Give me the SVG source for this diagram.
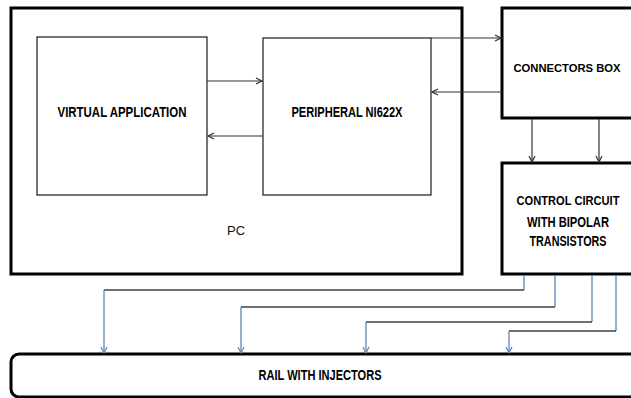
<svg xmlns="http://www.w3.org/2000/svg" width="631" height="398" viewBox="0 0 631 398">
<defs>
<style>
.thick{fill:#fff;stroke:#000;stroke-width:3}
.open{fill:#fff;stroke:#000;stroke-width:3;stroke-linejoin:miter}
.thin{fill:#fff;stroke:#1a1a1a;stroke-width:1.2}
.lbl{font-family:"Liberation Sans",Arial,sans-serif;font-weight:bold;font-size:14px;fill:#000}
.rs{font-size:12.5px}
.rx{font-size:11.5px}
.pc{font-family:"Liberation Sans",Arial,sans-serif;font-size:13px;fill:#111}
.c{fill:none;stroke:#333;stroke-width:1.2}
.h{fill:none;stroke:#404040;stroke-width:1.3}
.v{fill:none;stroke:#5b87ba;stroke-width:1.3}
</style>
<marker id="ak" markerWidth="8" markerHeight="8" refX="7" refY="4" orient="auto" markerUnits="userSpaceOnUse">
<path d="M1,1 L7,4 L1,7" fill="none" stroke="#333" stroke-width="1.2"/>
</marker>
<marker id="ab" markerWidth="8" markerHeight="8" refX="7" refY="4" orient="auto" markerUnits="userSpaceOnUse">
<path d="M1,1 L7,4 L1,7" fill="none" stroke="#5b87ba" stroke-width="1.2"/>
</marker>
</defs>
<rect width="631" height="398" fill="#fff"/>
<g id="pc">
<rect class="thick" x="11" y="8" width="451" height="266"/>
<text class="pc" x="236" y="235" text-anchor="middle">PC</text>
</g>
<g id="virtual-application">
<rect class="thin" x="37" y="37" width="170" height="158"/>
<text class="lbl" x="122" y="117" text-anchor="middle" textLength="129" lengthAdjust="spacingAndGlyphs">VIRTUAL APPLICATION</text>
</g>
<g id="peripheral">
<rect class="thin" x="263" y="38" width="168" height="157"/>
<text class="lbl" x="347" y="117" text-anchor="middle" textLength="111" lengthAdjust="spacingAndGlyphs">PERIPHERAL NI622X</text>
</g>
<g id="connectors-box">
<path class="open" d="M631,8 H502 V118 H631"/>
<text class="lbl rx" x="567" y="72" text-anchor="middle" textLength="107" lengthAdjust="spacingAndGlyphs">CONNECTORS BOX</text>
</g>
<g id="control-circuit">
<path class="open" d="M631,163 H502 V274 H631"/>
<text class="lbl rs" x="568" y="205" text-anchor="middle" textLength="103" lengthAdjust="spacingAndGlyphs">CONTROL CIRCUIT</text>
<text class="lbl" x="568" y="227" text-anchor="middle" textLength="82" lengthAdjust="spacingAndGlyphs">WITH BIPOLAR</text>
<text class="lbl" x="568" y="246" text-anchor="middle" textLength="77" lengthAdjust="spacingAndGlyphs">TRANSISTORS</text>
</g>
<g id="rail">
<path class="open" d="M631,354 H19 A8,8 0 0 0 11,362 V389 A8,8 0 0 0 19,397 H631"/>
<text class="lbl" x="320" y="380" text-anchor="middle" textLength="123" lengthAdjust="spacingAndGlyphs">RAIL WITH INJECTORS</text>
</g>
<g id="connectors">
<line class="c" x1="207" y1="81" x2="262" y2="81" marker-end="url(#ak)"/>
<line class="c" x1="263" y1="136" x2="208" y2="136" marker-end="url(#ak)"/>
<line class="c" x1="431" y1="38" x2="501" y2="38" marker-end="url(#ak)"/>
<line class="c" x1="502" y1="92" x2="432" y2="92" marker-end="url(#ak)"/>
<line class="c" x1="532" y1="119" x2="532" y2="162" marker-end="url(#ak)"/>
<line class="c" x1="599" y1="119" x2="599" y2="162" marker-end="url(#ak)"/>
<line class="v" x1="524" y1="275" x2="524" y2="290"/>
<line class="h" x1="524" y1="290" x2="104" y2="290"/>
<line class="v" x1="104" y1="290" x2="104" y2="353" marker-end="url(#ab)"/>
<line class="v" x1="555" y1="275" x2="555" y2="307"/>
<line class="h" x1="555" y1="307" x2="241" y2="307"/>
<line class="v" x1="241" y1="307" x2="241" y2="353" marker-end="url(#ab)"/>
<line class="v" x1="592" y1="275" x2="592" y2="322"/>
<line class="h" x1="592" y1="322" x2="366" y2="322"/>
<line class="v" x1="366" y1="322" x2="366" y2="353" marker-end="url(#ab)"/>
<line class="v" x1="616" y1="275" x2="616" y2="331"/>
<line class="h" x1="616" y1="331" x2="509" y2="331"/>
<line class="v" x1="509" y1="331" x2="509" y2="353" marker-end="url(#ab)"/>
</g>
</svg>
